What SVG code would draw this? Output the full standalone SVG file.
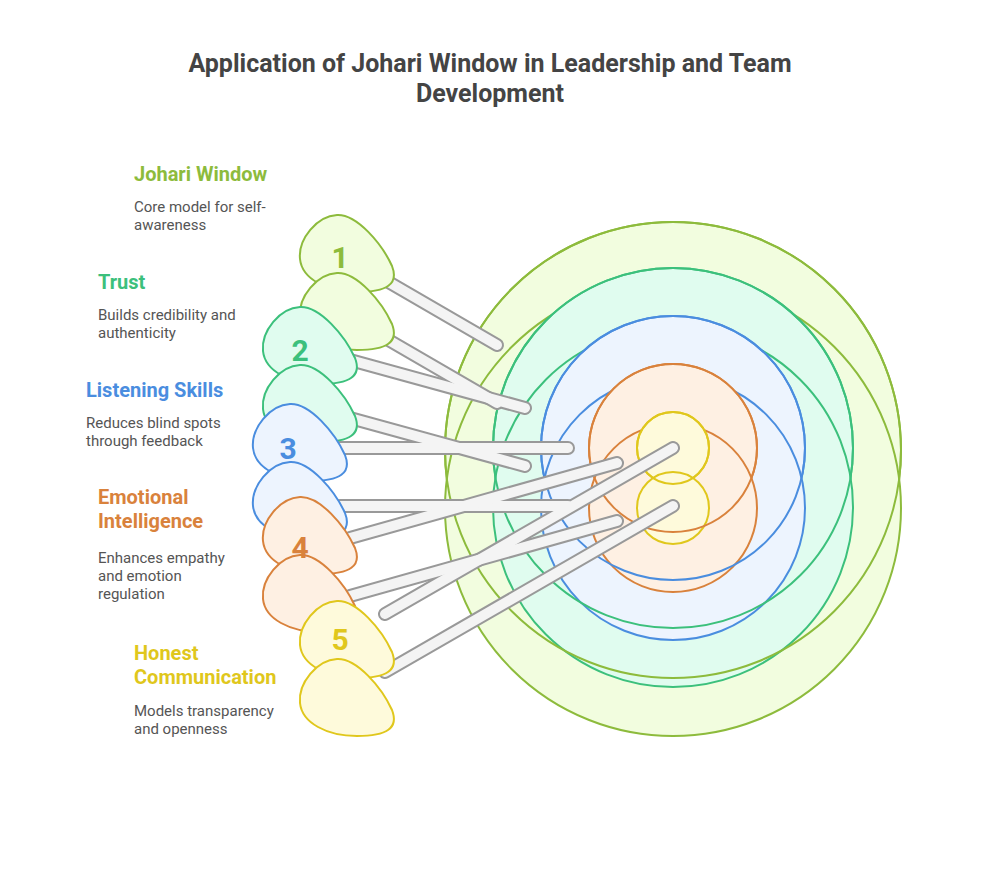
<svg xmlns="http://www.w3.org/2000/svg" width="985" height="876" viewBox="0 0 985 876">
<style>
.t{font-family:Roboto,"Liberation Sans",sans-serif;font-weight:bold}
.h{font-size:20px}
.d{font-family:Roboto,"Liberation Sans",sans-serif;font-size:15px;fill:#555}
.n{font-size:30px;text-anchor:middle}
.g{stroke:#8dbb3c;fill:#f2fddf}.tl{stroke:#3cc07c;fill:#e0fcef}.b{stroke:#4a8ddf;fill:#edf4fe}.o{stroke:#d9823c;fill:#fef0e3}.y{stroke:#e0c71c;fill:#fefadb}
circle,.blob{stroke-width:2}
</style>
<defs>
<path id="pk" d="M -10,-39 C 10,-40 35,-10 45,12 C 52,30 40,38 10,38 C -20,38 -45,25 -47,5 C -49,-15 -30,-38 -10,-39 Z"/>
</defs>
<rect width="985" height="876" fill="#fff"/>
<text class="t" x="490" y="72" font-size="25" fill="#444" text-anchor="middle">Application of Johari Window in Leadership and Team</text>
<text class="t" x="490" y="102" font-size="25" fill="#444" text-anchor="middle">Development</text>
<g id="target">
<circle class="g" cx="673" cy="450" r="228"/><circle class="g" cx="673" cy="508" r="228"/>
<circle class="tl" cx="673" cy="448" r="180"/><circle class="tl" cx="673" cy="507" r="180"/>
<circle class="b" cx="673" cy="448" r="132"/><circle class="b" cx="673" cy="508" r="132"/>
<circle class="o" cx="673" cy="448" r="84"/><circle class="o" cx="673" cy="508" r="84"/>
<circle class="y" cx="673" cy="448" r="36"/><circle class="y" cx="673" cy="508" r="36"/>
<g fill="none" stroke-width="2">
<circle cx="673" cy="450" r="228" stroke="#8dbb3c"/>
<circle cx="673" cy="448" r="180" stroke="#3cc07c"/>
<circle cx="673" cy="448" r="132" stroke="#4a8ddf"/>
<circle cx="673" cy="448" r="84" stroke="#d9823c"/>
<circle cx="673" cy="448" r="36" stroke="#e0c71c"/>
</g>
</g>
<g id="connectors" stroke-linecap="round">
<g stroke="#999" stroke-width="14">
<line x1="385" y1="280" x2="497" y2="345"/><line x1="385" y1="338" x2="497" y2="403"/>
<line x1="350" y1="360" x2="525" y2="408"/><line x1="350" y1="418" x2="525" y2="466"/>
<line x1="340" y1="448" x2="568" y2="448"/><line x1="340" y1="506" x2="568" y2="506"/>
<line x1="350" y1="538" x2="617" y2="463"/><line x1="350" y1="596" x2="617" y2="521"/>
<line x1="385" y1="614" x2="673" y2="448"/><line x1="385" y1="672" x2="673" y2="506"/>
</g>
<g stroke="#f4f4f4" stroke-width="10">
<line x1="385" y1="280" x2="497" y2="345"/><line x1="385" y1="338" x2="497" y2="403"/>
<line x1="350" y1="360" x2="525" y2="408"/><line x1="350" y1="418" x2="525" y2="466"/>
<line x1="340" y1="448" x2="568" y2="448"/><line x1="340" y1="506" x2="568" y2="506"/>
<line x1="350" y1="538" x2="617" y2="463"/><line x1="350" y1="596" x2="617" y2="521"/>
<line x1="385" y1="614" x2="673" y2="448"/><line x1="385" y1="672" x2="673" y2="506"/>
</g>
</g>
<g id="node1"><use href="#pk" class="g blob" x="347" y="254"/><use href="#pk" class="g blob" x="347" y="312"/><text class="t n" x="340" y="268" fill="#8dbb3c">1</text></g>
<g id="node2"><use href="#pk" class="tl blob" x="310" y="346"/><use href="#pk" class="tl blob" x="310" y="404"/><text class="t n" x="300" y="361" fill="#3cc07c">2</text></g>
<g id="node3"><use href="#pk" class="b blob" x="300" y="443"/><use href="#pk" class="b blob" x="300" y="501"/><text class="t n" x="288" y="459" fill="#4a8ddf">3</text></g>
<g id="node4"><use href="#pk" class="o blob" x="310" y="536"/><use href="#pk" class="o blob" x="310" y="594"/><text class="t n" x="300" y="558" fill="#d9823c">4</text></g>
<g id="node5"><use href="#pk" class="y blob" x="347" y="640"/><use href="#pk" class="y blob" x="347" y="698"/><text class="t n" x="340" y="650" fill="#e0c71c">5</text></g>
<g id="labels">
<text class="t h" x="134" y="181" fill="#8dbb3c">Johari Window</text>
<text class="d" x="134" y="212">Core model for self-</text><text class="d" x="134" y="230">awareness</text>
<text class="t h" x="98" y="289" fill="#3cc07c">Trust</text>
<text class="d" x="98" y="320">Builds credibility and</text><text class="d" x="98" y="338">authenticity</text>
<text class="t h" x="86" y="397" fill="#4a8ddf">Listening Skills</text>
<text class="d" x="86" y="428">Reduces blind spots</text><text class="d" x="86" y="446">through feedback</text>
<text class="t h" x="98" y="504" fill="#d9823c">Emotional</text><text class="t h" x="98" y="528" fill="#d9823c">Intelligence</text>
<text class="d" x="98" y="563">Enhances empathy</text><text class="d" x="98" y="581">and emotion</text><text class="d" x="98" y="599">regulation</text>
<text class="t h" x="134" y="660" fill="#e0c71c">Honest</text><text class="t h" x="134" y="684" fill="#e0c71c">Communication</text>
<text class="d" x="134" y="716">Models transparency</text><text class="d" x="134" y="734">and openness</text>
</g>
</svg>
